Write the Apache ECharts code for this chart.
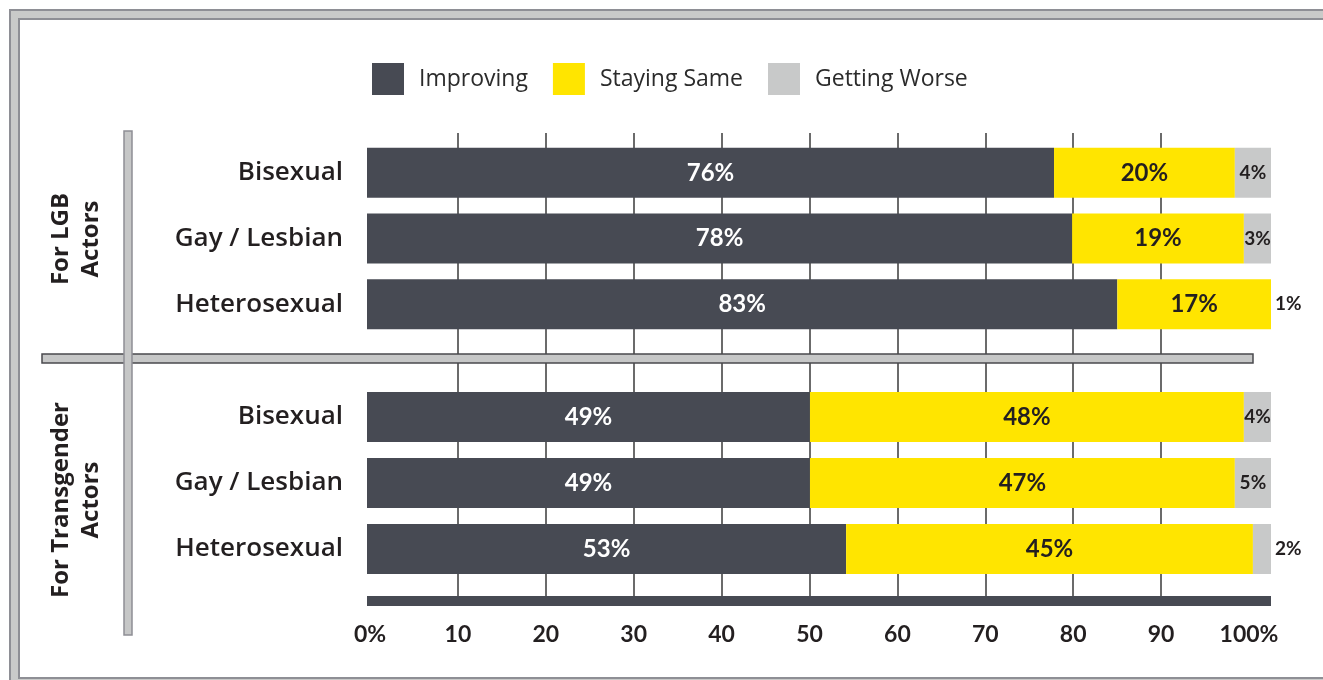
<!DOCTYPE html>
<html>
<head>
<meta charset="utf-8">
<script src="https://cdn.jsdelivr.net/npm/echarts@6/dist/echarts.min.js"></script>
<style>
  html, body { margin: 0; padding: 0; background: #ffffff; }
  #chart { width: 1323px; height: 680px; }
</style>
</head>
<body>
<div id="chart"></div>
<script>
// ---- data ----
const categories = ["Bisexual", "Gay / Lesbian", "Heterosexual"];
const groupNames = ["For LGB\nActors", "For Transgender\nActors"];
const seriesNames = ["Improving", "Staying Same", "Getting Worse"];
const lgbImproving = [76, 78, 83];
const lgbSame = [20, 19, 17];
const lgbWorse = [4, 3, 1];
const transImproving = [49, 49, 53];
const transSame = [48, 47, 45];
const transWorse = [4, 5, 2];
const tickValues = [0, 10, 20, 30, 40, 50, 60, 70, 80, 90, 100];
const tickLabels = ["0%", "10", "20", "30", "40", "50", "60", "70", "80", "90", "100%"];

// ---- style ----
const DARK = '#474a53';
const YELLOW = '#ffe500';
const GRAY = '#c8c9c9';
const TEXT = '#231f20';
const numFont = 'Lato';
const labFont = 'Open Sans';

const chart = echarts.init(document.getElementById('chart'), null, { renderer: 'canvas' });

function makeSeries(idx, improving, same, worse) {
  const stack = 'g' + idx;
  const base = {
    type: 'bar', stack: stack, barWidth: 50,
    xAxisIndex: idx, yAxisIndex: idx, z: 3,
    emphasis: { disabled: true }
  };
  return [
    Object.assign({}, base, {
      name: seriesNames[0], data: improving,
      itemStyle: { color: DARK },
      label: { show: true, position: 'inside', formatter: '{c}%', color: '#ffffff',
        fontFamily: numFont, fontWeight: 'bold', fontSize: 24, textBorderWidth: 0 }
    }),
    Object.assign({}, base, {
      name: seriesNames[1], data: same,
      itemStyle: { color: YELLOW },
      label: { show: true, position: 'inside', formatter: '{c}%', color: TEXT,
        fontFamily: numFont, fontWeight: 'bold', fontSize: 24, textBorderWidth: 0 }
    }),
    Object.assign({}, base, {
      name: seriesNames[2],
      data: worse.map(v => ({ value: v, label: { position: v < 3 ? 'right' : 'inside', distance: 4 } })),
      itemStyle: { color: GRAY },
      label: { show: true, formatter: '{c}%', color: TEXT,
        fontFamily: numFont, fontWeight: 'bold', fontSize: 19, textBorderWidth: 0 }
    })
  ];
}

const catAxis = (gi) => ({
  type: 'category', gridIndex: gi, data: categories, inverse: true,
  axisLine: { show: false }, axisTick: { show: false }, splitLine: { show: false },
  axisLabel: { color: TEXT, fontFamily: labFont, fontWeight: 600, fontSize: 26, margin: 24 }
});

const option = {
  animation: false,
  backgroundColor: '#ffffff',
  legend: {
    data: seriesNames,
    left: 367, top: 58,
    itemWidth: 32, itemHeight: 32, itemGap: 25,
    icon: 'rect',
    selectedMode: false,
    textStyle: { fontFamily: labFont, fontSize: 23, color: '#2b2b2b', padding: [0, 0, 0, 10] }
  },
  grid: [
    { left: 367, right: 52, top: 140, height: 197 },
    { left: 367, right: 52, top: 384, height: 198 },
    { left: 370, right: 74, top: 133, bottom: 79 }
  ],
  xAxis: [
    { type: 'value', gridIndex: 0, min: 0, max: 100, show: false },
    { type: 'value', gridIndex: 1, min: 0, max: 100,
      axisLine: { show: true, onZero: false, lineStyle: { color: DARK, width: 10, cap: 'butt' } },
      offset: 19,
      axisTick: { show: false }, axisLabel: { show: false }, splitLine: { show: false } },
    { type: 'value', gridIndex: 2, min: 0, max: 100, interval: 10,
      axisLine: { show: false }, axisTick: { show: false },
      splitLine: { show: true, showMinLine: false, showMaxLine: false,
        lineStyle: { color: '#3a3a3a', width: 1.5 } },
      axisLabel: {
        margin: 22, color: TEXT, fontFamily: numFont, fontWeight: 'bold', fontSize: 23,
        formatter: (v) => { const i = tickValues.indexOf(v); return i >= 0 ? tickLabels[i] : ''; }
      } }
  ],
  yAxis: [
    catAxis(0),
    catAxis(1),
    { type: 'value', gridIndex: 2, show: false, min: 0, max: 1 }
  ],
  series: [
    ...makeSeries(0, lgbImproving, lgbSame, lgbWorse),
    ...makeSeries(1, transImproving, transSame, transWorse)
  ],
  graphic: [
    // outer frame
    { type: 'rect', shape: { x: 14.5, y: 14.5, width: 1330, height: 668 }, z: 10,
      style: { fill: null, stroke: '#8e8f95', lineWidth: 11 } },
    { type: 'rect', shape: { x: 14.5, y: 14.5, width: 1330, height: 668 }, z: 11,
      style: { fill: null, stroke: '#c9cac9', lineWidth: 7 } },
    // horizontal separator
    { type: 'rect', shape: { x: 42, y: 354, width: 1211, height: 9 }, z: 10,
      style: { fill: '#c6c7c7', stroke: '#4a4a4e', lineWidth: 1.5 } },
    // vertical separator
    { type: 'rect', shape: { x: 124, y: 131, width: 8, height: 504 }, z: 10,
      style: { fill: '#c6c7c7', stroke: '#8e8f95', lineWidth: 1.5 } },
    // group labels
    { type: 'text', x: 76, y: 239, rotation: Math.PI / 2, z: 12,
      style: { text: groupNames[0], fill: TEXT, font: 'bold 24px "Open Sans"',
        align: 'center', verticalAlign: 'middle', lineHeight: 30 } },
    { type: 'text', x: 76, y: 500, rotation: Math.PI / 2, z: 12,
      style: { text: groupNames[1], fill: TEXT, font: 'bold 24px "Open Sans"',
        align: 'center', verticalAlign: 'middle', lineHeight: 30 } }
  ]
};

chart.setOption(option);
</script>
</body>
</html>
